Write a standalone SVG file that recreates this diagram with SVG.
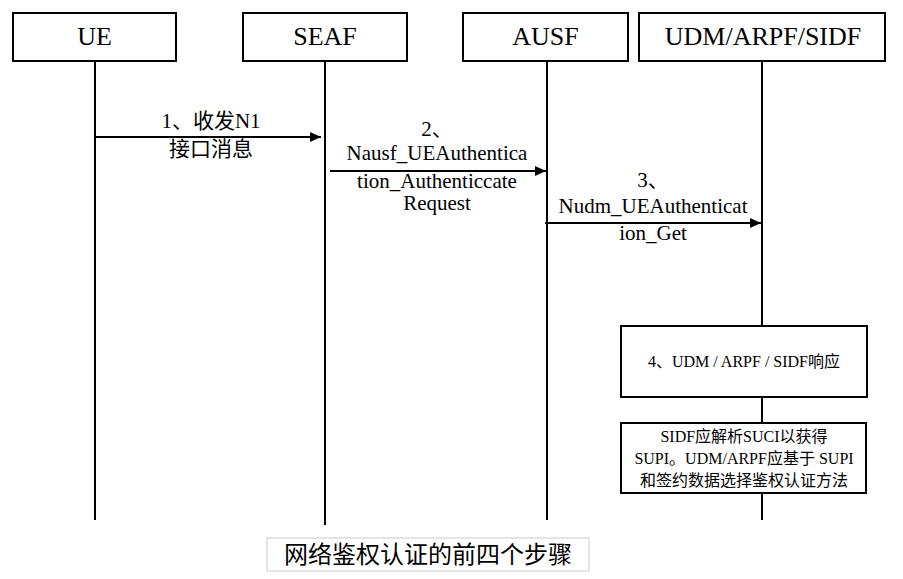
<svg xmlns="http://www.w3.org/2000/svg" width="903" height="579" viewBox="0 0 903 579">
<style>
.box{fill:#fff;stroke:#000;stroke-width:2}
.life{stroke:#000;stroke-width:2;fill:none}
.msg{stroke:#000;stroke-width:2;fill:none}
.hd{font-size:26px;text-anchor:middle;fill:#000}
.lb{font-size:21px;text-anchor:middle;fill:#000}
.nt{font-size:16px;text-anchor:middle;fill:#000}
.tt{font-size:24px;text-anchor:middle;fill:#000}
</style>
<defs>
<marker id="ah" markerWidth="11" markerHeight="10" refX="11" refY="5" orient="auto" markerUnits="userSpaceOnUse">
<path d="M0,0 L11,5 L0,10 Z" fill="#000"/>
</marker>
</defs>
<rect width="903" height="579" fill="#fff"/>
<g id="lifelines">
<line class="life" x1="95" y1="61" x2="95" y2="520"/>
<line class="life" x1="325" y1="61" x2="325" y2="525"/>
<line class="life" x1="547" y1="61" x2="547" y2="520"/>
<line class="life" x1="762" y1="61" x2="762" y2="326"/>
<line class="life" x1="762" y1="397" x2="762" y2="423"/>
<line class="life" x1="762" y1="493" x2="762" y2="520"/>
</g>
<g id="UE"><rect class="box" x="13" y="13" width="163" height="48"/><text class="hd" x="94.5" y="45" font-family="'Liberation Serif', 'Noto Sans CJK SC', serif">UE</text></g>
<g id="SEAF"><rect class="box" x="243" y="13" width="164" height="48"/><text class="hd" x="325" y="45" font-family="'Liberation Serif', 'Noto Sans CJK SC', serif">SEAF</text></g>
<g id="AUSF"><rect class="box" x="463" y="13" width="165" height="48"/><text class="hd" x="545.5" y="45" font-family="'Liberation Serif', 'Noto Sans CJK SC', serif">AUSF</text></g>
<g id="UDM"><rect class="box" x="639" y="13" width="246" height="48"/><text class="hd" x="763" y="45" font-family="'Liberation Serif', 'Noto Sans CJK SC', serif">UDM/ARPF/SIDF</text></g>
<g id="connectors">
<line class="msg" x1="96" y1="137" x2="321" y2="137" marker-end="url(#ah)"/>
<line class="msg" x1="330" y1="171" x2="546" y2="171" marker-end="url(#ah)"/>
<line class="msg" x1="545" y1="223" x2="761" y2="223" marker-end="url(#ah)"/>
</g>
<g id="labels">
<text class="lb" x="211" y="128" font-family="'Liberation Serif', 'Noto Sans CJK SC', serif">1<tspan font-family="'Noto Sans CJK SC', sans-serif">、收发</tspan>N1</text>
<text class="lb" x="211" y="156" font-family="'Noto Sans CJK SC', sans-serif">接口消息</text>
<text class="lb" x="437" y="136" font-family="'Liberation Serif', 'Noto Sans CJK SC', serif">2<tspan font-family="'Noto Sans CJK SC', sans-serif">、</tspan></text>
<text class="lb" x="437" y="160" font-family="'Liberation Serif', 'Noto Sans CJK SC', serif">Nausf_UEAuthentica</text>
<text class="lb" x="437" y="188" font-family="'Liberation Serif', 'Noto Sans CJK SC', serif">tion_Authenticcate</text>
<text class="lb" x="437" y="210" font-family="'Liberation Serif', 'Noto Sans CJK SC', serif">Request</text>
<text class="lb" x="653" y="187" font-family="'Liberation Serif', 'Noto Sans CJK SC', serif">3<tspan font-family="'Noto Sans CJK SC', sans-serif">、</tspan></text>
<text class="lb" x="653" y="213" font-family="'Liberation Serif', 'Noto Sans CJK SC', serif">Nudm_UEAuthenticat</text>
<text class="lb" x="653" y="240" font-family="'Liberation Serif', 'Noto Sans CJK SC', serif">ion_Get</text>
</g>
<g id="step4"><rect class="box" x="621" y="326" width="246" height="71"/><text class="nt" x="744" y="367" font-family="'Liberation Serif', 'Noto Sans CJK SC', serif">4<tspan font-family="'Noto Sans CJK SC', sans-serif">、</tspan>UDM / ARPF / SIDF<tspan font-family="'Noto Sans CJK SC', sans-serif">响应</tspan></text></g>
<g id="step4note"><rect class="box" x="621" y="423" width="245" height="70"/>
<text class="nt" x="744" y="442" font-family="'Liberation Serif', 'Noto Sans CJK SC', serif">SIDF<tspan font-family="'Noto Sans CJK SC', sans-serif">应解析</tspan>SUCI<tspan font-family="'Noto Sans CJK SC', sans-serif">以获得</tspan></text>
<text class="nt" x="744" y="464" font-family="'Liberation Serif', 'Noto Sans CJK SC', serif">SUPI<tspan font-family="'Noto Sans CJK SC', sans-serif">。</tspan>UDM/ARPF<tspan font-family="'Noto Sans CJK SC', sans-serif">应基于</tspan> SUPI</text>
<text class="nt" x="744" y="486" font-family="'Noto Sans CJK SC', sans-serif">和签约数据选择鉴权认证方法</text>
</g>
<g id="title"><rect x="267" y="538" width="322" height="33" fill="#fff" stroke="#ccc" stroke-width="1"/><text class="tt" x="428" y="563" font-family="'Noto Sans CJK SC', sans-serif">网络鉴权认证的前四个步骤</text></g>
</svg>
